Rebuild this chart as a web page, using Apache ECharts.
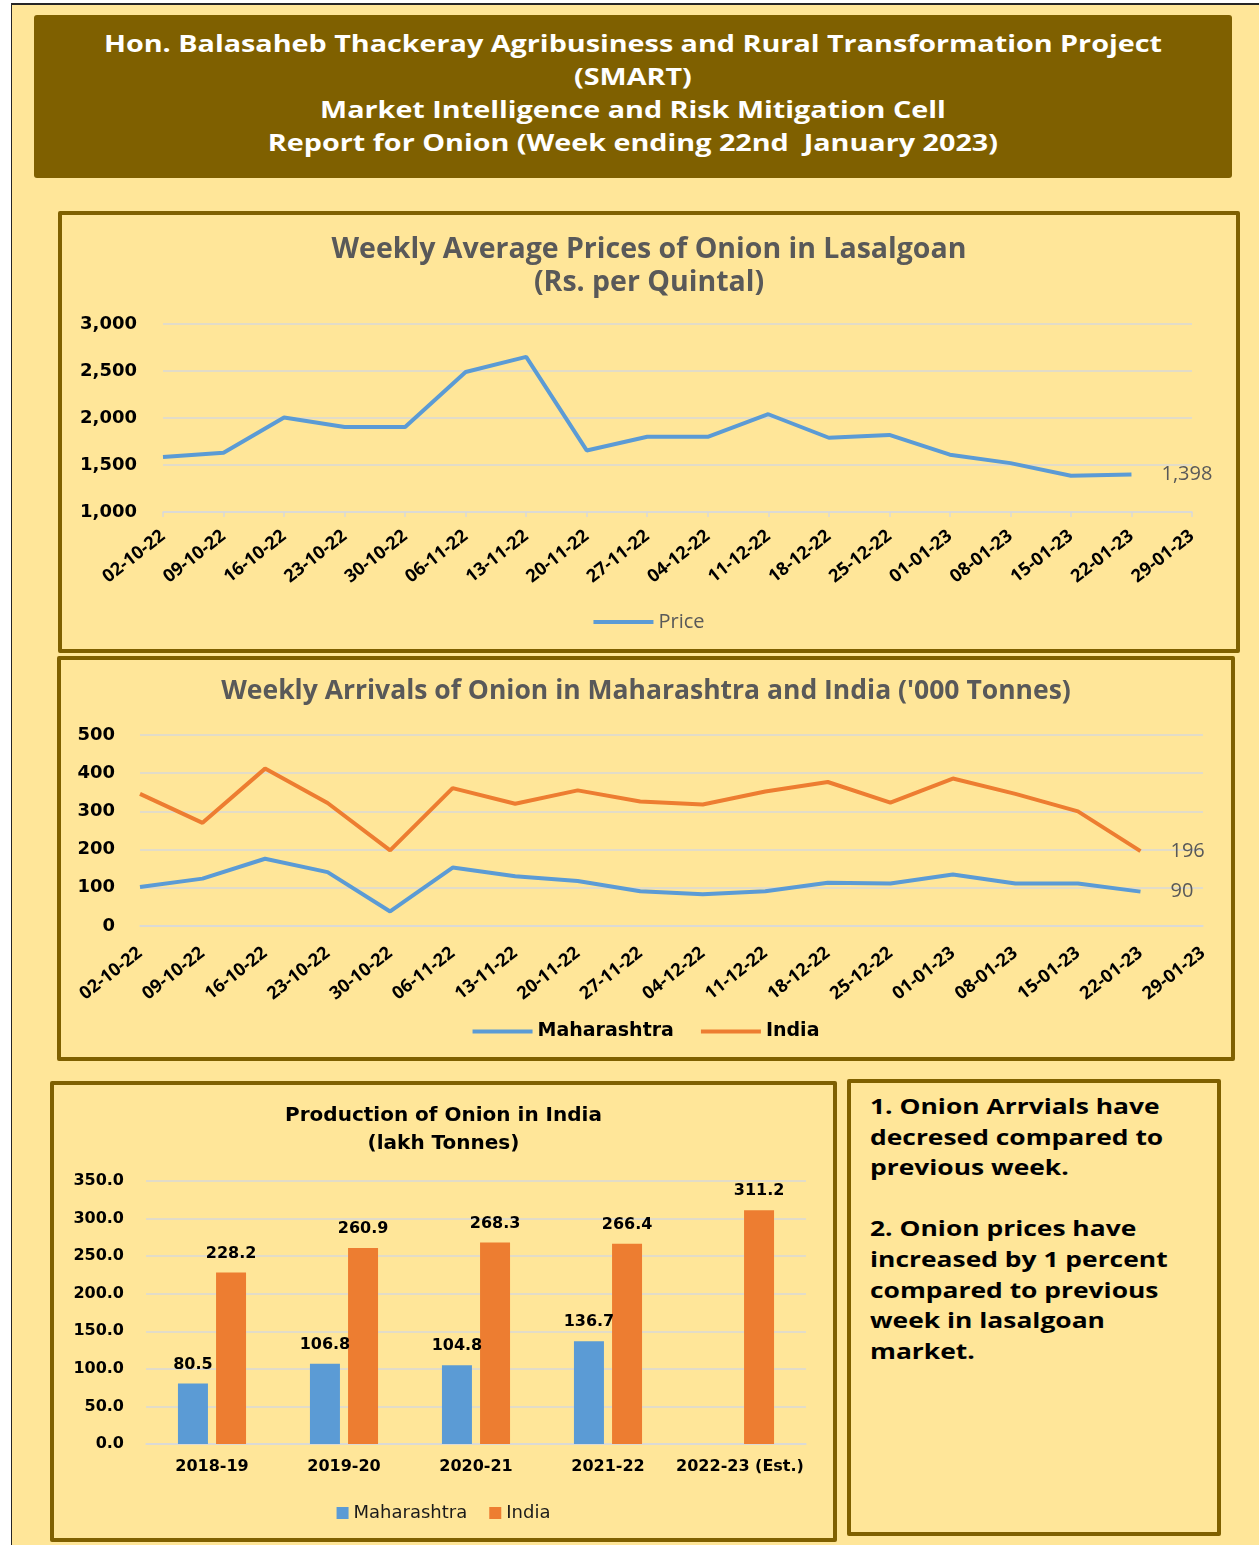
<!DOCTYPE html>
<html>
<head>
<meta charset="utf-8">
<title>Onion Weekly Report</title>
<script src="https://cdn.jsdelivr.net/npm/echarts@6/dist/echarts.min.js"></script>
<style>
    body { margin: 0; background: #ffffff; width: 1259px; height: 1545px; overflow: hidden; position: relative; }
    .page { position: absolute; left: 11px; top: 3px; width: 1260px; height: 1560px; background: #FFE699;
        border-top: 2px solid #262626; border-left: 1px solid #262626; box-sizing: border-box; }
    .header { position: absolute; left: 34px; top: 15px; width: 1198px; height: 163px; background: #7F6000;
        border-radius: 3px; box-sizing: border-box; padding-top: 11px; text-align: center; color: #ffffff;
        font-family: 'Open Sans', sans-serif; font-weight: bold; font-size: 24px; line-height: 33px; }
    .header .txt { display: inline-block; transform: scaleX(1.197); transform-origin: center; white-space: nowrap; }
    .panel { position: absolute; border: 4px solid #7F6000; box-sizing: border-box; border-radius: 2px; }
    .chart { position: absolute; }
    .notes { font-family: 'Open Sans', sans-serif; font-weight: bold; font-size: 22px; line-height: 30.6px;
        color: #000000; padding: 7px 0 0 19px; }
    .notes .txt { display: inline-block; transform: scaleX(1.2); transform-origin: left; white-space: nowrap; }
</style>
</head>
<body>
<div class="page"></div>
<div class="header"><div class="txt">
    Hon. Balasaheb Thackeray Agribusiness and Rural Transformation Project<br>
    (SMART)<br>
    Market Intelligence and Risk Mitigation Cell<br>
    Report for Onion (Week ending 22nd&nbsp; January 2023)
</div></div>
<div class="panel" style="left:58px;top:211px;width:1182px;height:442px;"></div>
<div class="panel" style="left:57px;top:656px;width:1178px;height:405px;"></div>
<div class="panel" style="left:50px;top:1081px;width:787px;height:461px;"></div>
<div class="panel notes" style="left:847px;top:1079px;width:374px;height:457px;"><div class="txt">
    1. Onion Arrvials have<br>
    decresed compared to<br>
    previous week.<br>
    <br>
    2. Onion prices have<br>
    increased by 1 percent<br>
    compared to previous<br>
    week in lasalgoan<br>
    market.
</div></div>
<div id="chart-price" class="chart" style="left:58px;top:211px;width:1182px;height:442px;"></div>
<div id="chart-arrival" class="chart" style="left:57px;top:656px;width:1178px;height:405px;"></div>
<div id="chart-prod" class="chart" style="left:50px;top:1081px;width:787px;height:461px;"></div>

<script>
// weeks (last week has no data yet)
var weeks = ['02-10-22', '09-10-22', '16-10-22', '23-10-22', '30-10-22', '06-11-22', '13-11-22', '20-11-22',
    '27-11-22', '04-12-22', '11-12-22', '18-12-22', '25-12-22', '01-01-23', '08-01-23', '15-01-23',
    '22-01-23', '29-01-23'];

// Lasalgoan weekly average price, Rs. per quintal
var price = [1585, 1630, 2005, 1905, 1905, 2490, 2650, 1655, 1800, 1800, 2040, 1790, 1820, 1610, 1520, 1385, 1398];

// weekly arrivals, '000 tonnes
var arrivalMah = [102, 124, 176, 141, 38, 153, 130, 118, 91, 83, 91, 113, 111, 135, 111, 111, 90];
var arrivalInd = [346, 270, 412, 322, 198, 361, 320, 355, 326, 318, 352, 377, 323, 386, 346, 300, 196];

// production, lakh tonnes
var years = ['2018-19', '2019-20', '2020-21', '2021-22', '2022-23 (Est.)'];
var prodMah = [80.5, 106.8, 104.8, 136.7, null];
var prodInd = [228.2, 260.9, 268.3, 266.4, 311.2];

var BLUE = '#5B9BD5';
var ORANGE = '#ED7D31';
var GRID = '#D9D9D9';
var GREY = '#595959';
var SANS = 'Open Sans';
var WIDE = 'DejaVu Sans';

initPrice();
initArrival();
initProd();

function fmtThousand(v) {
    return Number(v).toLocaleString('en-US');
}

// rotated date axis shared by both weekly charts
function dateAxis(showTick, margin) {
    return {
        type: 'category',
        boundaryGap: false,
        data: weeks,
        axisLine: {lineStyle: {color: GRID, width: 1.5}},
        axisTick: {show: showTick, length: 5, lineStyle: {color: GRID, width: 1.5}},
        axisLabel: {
            interval: 0, rotate: 38, margin: margin,
            fontFamily: SANS, fontWeight: 'bold', fontSize: 18, color: '#000'
        }
    };
}

function lineSeries(name, data, color) {
    return {
        name: name,
        type: 'line',
        data: data,
        showSymbol: false,
        color: color,
        lineStyle: {width: 4, color: color},
        endLabel: {
            show: true, distance: 30, color: GREY, fontFamily: SANS, fontSize: 20,
            formatter: function (p) { return fmtThousand(p.value); }
        }
    };
}

//价格图
function initPrice() {
    var chart = echarts.init(document.getElementById('chart-price'));
    chart.setOption({
        animation: false,
        title: {
            text: 'Weekly Average Prices of Onion in Lasalgoan\n(Rs. per Quintal)',
            left: 'center', top: 17,
            textStyle: {fontFamily: SANS, fontWeight: 'bold', fontSize: 28.5, color: GREY, lineHeight: 33}
        },
        legend: {
            top: 396, left: 'center', icon: 'rect', itemWidth: 60, itemHeight: 4,
            textStyle: {fontFamily: SANS, fontSize: 20, color: GREY}
        },
        grid: {left: 105, right: 48, top: 113, bottom: 141},
        xAxis: dateAxis(true, 22),
        yAxis: {
            type: 'value', min: 1000, max: 3000, interval: 500,
            axisLabel: {
                margin: 26, fontFamily: WIDE, fontWeight: 'bold', fontSize: 18, color: '#000',
                formatter: fmtThousand
            },
            splitLine: {lineStyle: {color: GRID, width: 1.5}}
        },
        series: [lineSeries('Price', price, BLUE)]
    });
}

//到货量图
function initArrival() {
    var chart = echarts.init(document.getElementById('chart-arrival'));
    chart.setOption({
        animation: false,
        title: {
            text: 'Weekly Arrivals of Onion in Maharashtra and India (\'000 Tonnes)',
            left: 'center', top: 17,
            textStyle: {fontFamily: SANS, fontWeight: 'bold', fontSize: 26.5, color: GREY}
        },
        legend: {
            top: 361, left: 'center', icon: 'rect', itemWidth: 60, itemHeight: 4, itemGap: 27,
            textStyle: {fontFamily: WIDE, fontWeight: 'bold', fontSize: 19, color: '#000'}
        },
        grid: {left: 83, right: 32, top: 79, bottom: 135},
        xAxis: dateAxis(false, 25),
        yAxis: {
            type: 'value', min: 0, max: 500, interval: 100,
            axisLabel: {margin: 25, fontFamily: WIDE, fontWeight: 'bold', fontSize: 18, color: '#000'},
            splitLine: {lineStyle: {color: GRID, width: 1.5}}
        },
        series: [
            lineSeries('Maharashtra', arrivalMah, BLUE),
            lineSeries('India', arrivalInd, ORANGE)
        ]
    });
}

//产量柱状图
function initProd() {
    var chart = echarts.init(document.getElementById('chart-prod'));
    var barLabel = {
        show: true, position: 'top', distance: 11,
        fontFamily: WIDE, fontWeight: 'bold', fontSize: 16, color: '#000',
        formatter: function (p) { return p.value == null ? '' : p.value.toFixed(1); }
    };
    chart.setOption({
        animation: false,
        title: {
            text: 'Production of Onion in India\n(lakh Tonnes)',
            left: 'center', top: 16,
            textStyle: {fontFamily: WIDE, fontWeight: 'bold', fontSize: 20, color: '#000', lineHeight: 28}
        },
        legend: {
            top: 418, left: 'center', icon: 'rect', itemWidth: 12, itemHeight: 12, itemGap: 22,
            textStyle: {fontFamily: WIDE, fontSize: 18, color: '#1a1a1a'}
        },
        grid: {left: 96, right: 31, top: 100, bottom: 98},
        xAxis: {
            type: 'category', data: years,
            axisLine: {lineStyle: {color: GRID, width: 1.5}},
            axisTick: {show: false},
            axisLabel: {interval: 0, margin: 15, fontFamily: WIDE, fontWeight: 'bold', fontSize: 16, color: '#000'}
        },
        yAxis: {
            type: 'value', min: 0, max: 350, interval: 50,
            axisLabel: {
                margin: 22, fontFamily: WIDE, fontWeight: 'bold', fontSize: 16, color: '#000',
                formatter: function (v) { return v.toFixed(1); }
            },
            splitLine: {lineStyle: {color: GRID, width: 1.5}}
        },
        series: [
            {name: 'Maharashtra', type: 'bar', data: prodMah, color: BLUE, barWidth: 30, barGap: '27%', label: barLabel},
            {name: 'India', type: 'bar', data: prodInd, color: ORANGE, barWidth: 30, barGap: '27%', label: barLabel}
        ]
    });
}
</script>
</body>
</html>
